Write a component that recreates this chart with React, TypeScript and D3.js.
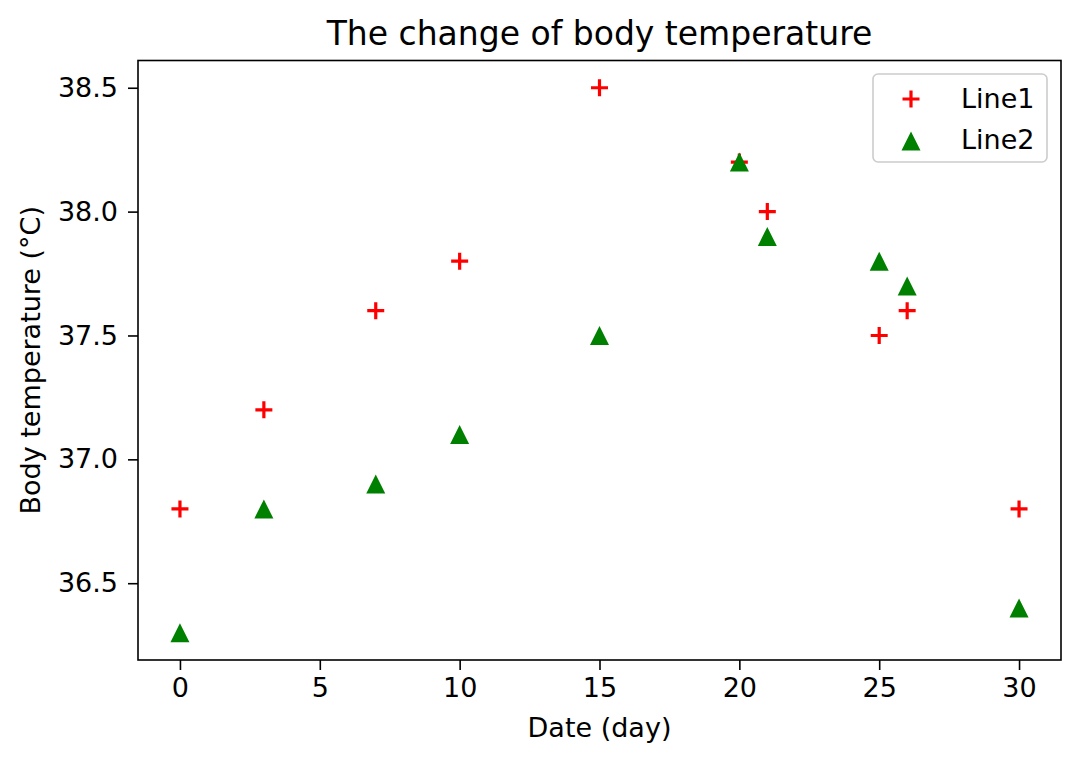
import * as d3 from 'd3';
import * as React from 'react';

const days = [0, 3, 7, 10, 15, 20, 21, 25, 26, 30];
const line1 = [36.8, 37.2, 37.6, 37.8, 38.5, 38.2, 38.0, 37.5, 37.6, 36.8];
const line2 = [36.3, 36.8, 36.9, 37.1, 37.5, 38.2, 37.9, 37.8, 37.7, 36.4];
const xTicks = [0, 5, 10, 15, 20, 25, 30];
const yTicks = [36.5, 37.0, 37.5, 38.0, 38.5];
const seriesNames = ['Line1', 'Line2'];

const FONT = 'DejaVu Sans, sans-serif';
const LABEL_SIZE = '27px';
const plusPath = 'M-8.5,0H8.5M0,-8.5V8.5';
const triPath = 'M0,-9.5L9.5,9.5L-9.5,9.5Z';

const App = () => {
  const ref = React.useRef<SVGSVGElement | null>(null);

  React.useEffect(() => {
    if (!ref.current) return;
    const svg = d3.select(ref.current);
    svg.selectAll('*').remove();

    const margin = { top: 60.5, right: 19, bottom: 103, left: 138 };
    const W = 1080;
    const H = 763;

    // matplotlib style 5% margins on the data range
    const x = d3.scaleLinear().domain([-1.5, 31.5]).range([margin.left, W - margin.right]);
    const y = d3.scaleLinear().domain([36.19, 38.61]).range([H - margin.bottom, margin.top]);

    svg.append('rect').attr('width', W).attr('height', H).attr('fill', '#fff');

    const xAxis = svg
      .append('g')
      .attr('transform', `translate(0,${H - margin.bottom})`)
      .call(d3.axisBottom(x).tickValues(xTicks).tickFormat(d3.format('d')).tickSize(10).tickPadding(8));
    const yAxis = svg
      .append('g')
      .attr('transform', `translate(${margin.left},0)`)
      .call(d3.axisLeft(y).tickValues(yTicks).tickFormat(d3.format('.1f')).tickSize(10).tickPadding(10));

    [xAxis, yAxis].forEach((a) => {
      a.select('.domain').remove();
      a.selectAll('.tick line').style('stroke', '#000').style('stroke-width', 1.6);
      a.selectAll('text').style('fill', '#000').style('font-family', FONT).style('font-size', LABEL_SIZE);
    });

    // frame
    svg
      .append('rect')
      .attr('x', margin.left)
      .attr('y', margin.top)
      .attr('width', W - margin.right - margin.left)
      .attr('height', H - margin.bottom - margin.top)
      .attr('fill', 'none')
      .attr('stroke', '#000')
      .attr('stroke-width', 1.6);

    svg
      .append('g')
      .selectAll('path')
      .data(days)
      .enter()
      .append('path')
      .attr('d', plusPath)
      .attr('transform', (d, i) => `translate(${x(d)},${y(line1[i])})`)
      .attr('stroke', '#ff0000')
      .attr('stroke-width', 3.2)
      .attr('fill', 'none');

    svg
      .append('g')
      .selectAll('path')
      .data(days)
      .enter()
      .append('path')
      .attr('d', triPath)
      .attr('transform', (d, i) => `translate(${x(d)},${y(line2[i])})`)
      .attr('fill', '#008000');

    // title and labels
    svg
      .append('text')
      .attr('x', (margin.left + W - margin.right) / 2)
      .attr('y', 45)
      .attr('text-anchor', 'middle')
      .style('font-family', FONT)
      .style('font-size', '33px')
      .text('The change of body temperature');

    svg
      .append('text')
      .attr('x', (margin.left + W - margin.right) / 2)
      .attr('y', 737)
      .attr('text-anchor', 'middle')
      .style('font-family', FONT)
      .style('font-size', LABEL_SIZE)
      .text('Date (day)');

    svg
      .append('text')
      .attr('transform', `translate(40,${(margin.top + H - margin.bottom) / 2}) rotate(-90)`)
      .attr('text-anchor', 'middle')
      .style('font-family', FONT)
      .style('font-size', LABEL_SIZE)
      .text('Body temperature (°C)');

    // legend
    const lg = svg.append('g');
    lg.append('rect')
      .attr('x', 873)
      .attr('y', 74)
      .attr('width', 174)
      .attr('height', 88)
      .attr('rx', 5)
      .attr('fill', '#fff')
      .attr('fill-opacity', 0.8)
      .attr('stroke', '#cccccc')
      .attr('stroke-width', 1.6);

    const rows = lg
      .selectAll('g.row')
      .data(seriesNames)
      .enter()
      .append('g')
      .attr('transform', (d, i) => `translate(0,${99 + i * 41})`);
    rows.each(function (d, i) {
      const r = d3.select(this);
      if (i === 0) {
        r.append('path').attr('d', plusPath).attr('transform', 'translate(911,0)').attr('stroke', '#ff0000').attr('stroke-width', 3.2).attr('fill', 'none');
      } else {
        r.append('path').attr('d', triPath).attr('transform', 'translate(911,1)').attr('fill', '#008000');
      }
      r.append('text').attr('x', 961).attr('y', 9).style('font-family', FONT).style('font-size', LABEL_SIZE).text(d);
    });
  }, []);

  return (
    <div style={{ position: 'absolute', left: 0, top: 0 }}>
      <svg ref={ref} width={1080} height={763} style={{ display: 'block' }} />
    </div>
  );
};

export default App;
